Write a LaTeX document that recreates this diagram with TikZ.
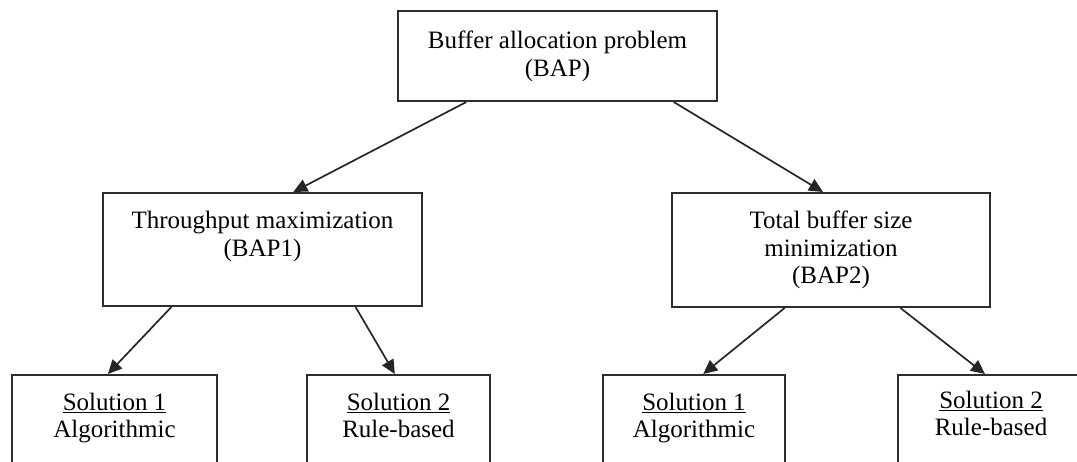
\documentclass[tikz,border=0pt]{standalone}
\usepackage{fontspec}
\setmainfont{Liberation Serif}
\usetikzlibrary{arrows.meta,calc}
\definecolor{edge}{HTML}{2E2E2E}
\tikzset{
  box/.style={draw=edge, line width=2pt, rectangle, inner sep=0pt, fill=white},
  txt/.style={anchor=north, align=center, inner sep=0pt, font=\fontsize{25}{27.5}\selectfont},
  link/.style={draw=black!85, line width=1.7pt, -{Triangle[length=14pt,width=13pt]}}
}
\begin{document}
\begin{tikzpicture}[x=1pt,y=-1pt]
\useasboundingbox (0,0) rectangle (1077,461);
% level 0
\node[box, minimum width=319pt, minimum height=90pt] (bap) at (557.5,56) {};
\node[txt] (bapT) at (557.5,30.9) {Buffer allocation problem\\(BAP)};
% level 1
\node[box, minimum width=319pt, minimum height=113pt] (bapA) at (262.5,249.5) {};
\node[txt, font=\fontsize{25}{28.5}\selectfont] (bapAT) at (262.5,210.9) {Throughput maximization\\(BAP1)};
\node[box, minimum width=318pt, minimum height=114pt] (bapB) at (831,250) {};
\node[txt] (bapBT) at (831,210.9) {Total buffer size\\minimization\\(BAP2)};
% level 2
\node[box, minimum width=205pt, minimum height=130pt] (solA1) at (114.5,440) {};
\node[txt] (solA1T) at (114.5,392.9) {\underline{Solution 1}\\Algorithmic};
\node[box, minimum width=183pt, minimum height=130pt] (solA2) at (398.5,440) {};
\node[txt] (solA2T) at (398.5,392.9) {\underline{Solution 2}\\Rule-based};
\node[box, minimum width=182pt, minimum height=130pt] (solB1) at (694,440) {};
\node[txt] (solB1T) at (694,392.9) {\underline{Solution 1}\\Algorithmic};
\node[box, minimum width=186pt, minimum height=130pt] (solB2) at (991,440) {};
\node[txt] (solB2T) at (991,390.9) {\underline{Solution 2}\\Rule-based};
% connectors
\draw[link] ($(bap.south west)!0.216!(bap.south east)$) -- ($(bapA.north west)!0.596!(bapA.north east)$);
\draw[link] ($(bap.south west)!0.862!(bap.south east)$) -- ($(bapB.north west)!0.475!(bapB.north east)$);
\draw[link] ($(bapA.south west)!0.216!(bapA.south east)$) -- ($(solA1.north west)!0.468!(solA1.north east)$);
\draw[link] ($(bapA.south west)!0.79!(bapA.south east)$) -- ($(solA2.north west)!0.48!(solA2.north east)$);
\draw[link] ($(bapB.south west)!0.355!(bapB.south east)$) -- ($(solB1.north west)!0.55!(solB1.north east)$);
\draw[link] ($(bapB.south west)!0.717!(bapB.south east)$) -- ($(solB2.north west)!0.468!(solB2.north east)$);
\end{tikzpicture}
\end{document}
